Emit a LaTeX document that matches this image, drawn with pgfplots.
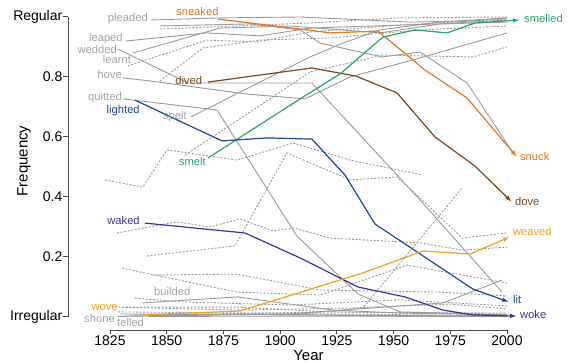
\documentclass[border=0pt]{standalone}
\usepackage{pgfplots}
\pgfplotsset{compat=1.18}
\usepackage{fontspec}
\setmainfont{Liberation Sans}
\usetikzlibrary{arrows.meta}
\definecolor{cgray}{HTML}{9A9A9A}
\definecolor{lgray}{HTML}{A4A4A4}
\definecolor{corange}{HTML}{E8761E}
\definecolor{cbrown}{HTML}{7A4A1C}
\definecolor{cgreen}{HTML}{25A86B}
\definecolor{cblue}{HTML}{1B479B}
\definecolor{cpurple}{HTML}{4B2C9E}
\definecolor{cyellow}{HTML}{EFA21E}
\tikzset{
  gs/.style={cgray, line width=0.9pt},
  gd/.style={cgray, line width=0.9pt, dash pattern=on 2pt off 1.6pt},
  cl/.style={line width=1.2pt, -{Latex[length=7pt,width=4.5pt]}},
  lab/.style={font=\fontsize{11.2}{12}\selectfont, inner sep=0pt},
}
\begin{document}
\begin{tikzpicture}[x=1pt,y=1pt]
\begin{axis}[
  at={(68pt,33pt)}, anchor=south west,
  scale only axis, width=439pt, height=313.3pt,
  xmin=1806.5, xmax=2000, ymin=-0.0443, ymax=1,
  clip=false,
  axis x line*=bottom, axis y line*=left,
  x axis line style={-, shorten <=42pt},
  y axis line style={-, shorten <=13.3pt},
  axis line style={black!70, line width=0.8pt},
  xtick={1825,1850,1875,1900,1925,1950,1975,2000},
  xticklabels={1825,1850,1875,1900,1925,1950,1975,2000},
  ytick={0,0.2,0.4,0.6,0.8,1},
  yticklabels={Irregular,0.2,0.4,0.6,0.8,Regular},
  tick align=outside, major tick length=4.5pt,
  tick style={black!70, line width=0.8pt},
  xticklabel style={font=\fontsize{14}{15}\selectfont, inner sep=1.5pt},
  yticklabel style={font=\fontsize{14}{15}\selectfont, inner sep=1pt},
  no markers,
]
% ---- gray dashed
\addplot[gd] coordinates {(1847.0,0.959)(1913.2,0.979)(1952.8,0.996)(2000,0.999)};
\addplot[gd] coordinates {(1832.9,0.836)(1867.8,0.922)(1889.8,0.916)(1913.2,0.949)(1952.8,0.972)(2000,0.992)};
\addplot[gd] coordinates {(1847.0,0.786)(1866.0,0.896)(1891.1,0.922)(1922.0,0.929)(1961.7,0.956)(2000,0.969)};
\addplot[gd] coordinates {(1858.1,0.539)(1886.7,0.682)(1913.2,0.816)(1945.3,0.872)(1964.7,0.869)(1985.0,0.866)(2000,0.899)};
\addplot[gd] coordinates {(1822.8,0.456)(1839.5,0.432)(1850.1,0.556)(1881.0,0.522)(1905.7,0.579)(1930.8,0.522)(1963.0,0.472)};
\addplot[gd] coordinates {(1841.3,0.202)(1880.1,0.236)(1903.0,0.546)(1930.8,0.456)(1951.5,0.466)(1961.7,0.396)(1980.2,0.262)(2000,0.279)};
\addplot[gd] coordinates {(1828.1,0.279)(1854.5,0.316)(1869.1,0.299)(1882.3,0.326)(1896.9,0.286)(1905.7,0.296)(1922.0,0.262)(1961.7,0.246)(1980.6,0.222)(2000,0.232)};
\addplot[gd] coordinates {(1830.3,0.162)(1881.0,0.082)(1917.6,0.072)(1955.9,0.172)(2000,0.112)};
\addplot[gd] coordinates {(1843.5,0.139)(1881.0,0.142)(1917.6,0.089)(1970.5,0.082)(2000,0.069)};
\addplot[gd] coordinates {(1908.8,0.009)(1936.5,0.029)(1980.2,0.429)};
\addplot[gd] coordinates {(1836.0,0.062)(1857.2,0.049)(1904.3,0.039)(1952.8,0.056)(2000,0.036)};
\addplot[gd] coordinates {(1827.2,0.032)(1882.3,0.022)(1930.8,0.029)(1974.9,0.042)(2000,0.026)};
\addplot[gd] coordinates {(1830.3,0.032)(1881.0,0.032)(1922.0,0.016)(2000,0.012)};
\addplot[gd] coordinates {(1828.5,0.016)(1891.1,0.012)(1961.7,0.006)(2000,0.002)};
\addplot[gd] coordinates {(1842.6,0.006)(1922.0,0.016)(2000,0.009)};
% ---- gray solid
\addplot[gs] coordinates {(1843.1,0.989)(1873.5,0.996)(1908.8,0.999)(1957.2,0.982)(1985.0,0.986)(2000,0.996)}; % pleaded
\addplot[gs] coordinates {(1832.1,0.919)(1867.8,0.946)(1891.1,0.936)(1913.2,0.962)(1952.8,0.972)(2000,0.982)}; % leaped
\addplot[gs] coordinates {(1835.1,0.879)(1873.5,0.962)(1904.3,0.969)(1944.0,0.946)(1970.5,0.976)(2000,0.989)}; % learnt
\addplot[gs] coordinates {(1847.0,0.969)(1886.7,0.976)(1908.8,0.956)(1917.6,0.912)(1944.9,0.866)(1961.7,0.882)(1982.4,0.779)(2002.7,0.546)};
\addplot[gs] coordinates {(1828.5,0.892)(1859.4,0.779)(1914.0,0.779)(1961.7,0.389)(1997.8,0.082)}; % wedded
\addplot[gs] coordinates {(1830.7,0.796)(1842.6,0.786)(1885.4,0.742)(1911.0,0.726)(1930.8,0.799)(1958.6,0.856)(2000,0.946)}; % hove
\addplot[gs] coordinates {(1830.7,0.726)(1872.2,0.689)(1907.4,0.269)(1934.3,0.076)(1952.8,0.016)(2000,0.006)}; % quitted
\addplot[gs] coordinates {(1860.7,0.666)(1913.2,0.866)(1927.7,0.912)(1944.0,0.956)(1970.5,0.982)(2000,0.996)}; % spelt
\addplot[gs] coordinates {(1839.5,0.046)(1881.4,0.066)(1923.3,0.022)(1952.8,0.012)(2000,0.006)}; % builded
\addplot[gs] coordinates {(1828.5,0.001)(1903.0,0.009)(1971.8,0.046)(1997.8,0.122)}; % shone
\addplot[gs] coordinates {(1841.8,0.001)(1920,0.002)(2000,0.001)}; % telled
\addplot[gs] coordinates {(1829.4,0.009)(1908.8,0.006)(2000,0.002)};
\addplot[gs] coordinates {(1831.6,0.002)(1886.7,0.009)(1952.8,0.002)(2000,0.000)};
% ---- coloured
\addplot[cl, corange] coordinates {(1872.6,0.992)(1908.8,0.959)(1922.0,0.946)(1943.1,0.952)(1963.9,0.822)(1982.4,0.729)(2004.4,0.532)};
\addplot[cl, cbrown] coordinates {(1868.2,0.782)(1914.0,0.829)(1933.4,0.802)(1951.5,0.746)(1968.3,0.599)(1985.9,0.502)(2002.2,0.382)};
\addplot[cl, cgreen] coordinates {(1868.2,0.529)(1908.8,0.726)(1926.4,0.809)(1945.3,0.932)(1959.4,0.956)(1973.6,0.946)(1985.9,0.979)(2005.7,0.989)};
\addplot[cl, cblue] coordinates {(1836.0,0.722)(1874.4,0.586)(1894.2,0.596)(1914.0,0.592)(1928.6,0.472)(1941.8,0.309)(1985.0,0.092)(2000.9,0.049)};
\addplot[cl, cpurple] coordinates {(1840.4,0.312)(1884.5,0.279)(1908.8,0.196)(1934.3,0.099)(1955.0,0.066)(1971.8,0.022)(1985.0,0.006)(2004.4,0.002)};
\addplot[cl, cyellow] coordinates {(1839.1,0.006)(1882.3,0.019)(1936.5,0.146)(1963.0,0.219)(1983.7,0.209)(2001.3,0.266)};
% ---- labels
\node[lab, lgray, anchor=mid east] at (axis cs:1841.75,0.992) {pleaded};
\node[lab, lgray, anchor=mid east] at (axis cs:1830.7,0.926) {leaped};
\node[lab, lgray, anchor=mid east] at (axis cs:1828.1,0.886) {wedded};
\node[lab, lgray, anchor=mid east] at (axis cs:1834.3,0.853) {learnt};
\node[lab, lgray, anchor=mid east] at (axis cs:1830.3,0.802) {hove};
\node[lab, lgray, anchor=mid east] at (axis cs:1830.3,0.728) {quitted};
\node[lab, cblue, anchor=mid east] at (axis cs:1838.2,0.687) {lighted};
\node[lab, lgray, anchor=mid east] at (axis cs:1858.9,0.666) {spelt};
\node[lab, cgreen, anchor=mid east] at (axis cs:1867.3,0.512) {smelt};
\node[lab, cpurple, anchor=mid east] at (axis cs:1838.2,0.316) {waked};
\node[lab, cyellow, anchor=mid east] at (axis cs:1828.5,0.029) {wove};
\node[lab, lgray, anchor=mid east] at (axis cs:1827.2,-0.011) {shone};
\node[lab, cbrown, anchor=mid west] at (axis cs:1853.7,0.782) {dived};
\node[lab, corange, anchor=mid west] at (axis cs:1854.1,1.014) {sneaked};
\node[lab, lgray, anchor=mid west] at (axis cs:1844.4,0.079) {builded};
\node[lab, lgray, anchor=mid west] at (axis cs:1828.1,-0.025) {telled};
\node[lab, cgreen, anchor=mid west] at (axis cs:2007.5,0.989) {smelled};
\node[lab, corange, anchor=mid west] at (axis cs:2005.7,0.529) {snuck};
\node[lab, cbrown, anchor=mid west] at (axis cs:2003.5,0.379) {dove};
\node[lab, cyellow, anchor=mid west] at (axis cs:2002.6,0.279) {weaved};
\node[lab, cblue, anchor=mid west] at (axis cs:2002.6,0.052) {lit};
\node[lab, cpurple, anchor=mid west] at (axis cs:2005.7,0.002) {woke};
% axis titles
\node[font=\fontsize{15}{16}\selectfont, inner sep=0pt, anchor=north] at (axis cs:1912.5,-0.0443) [yshift=-20pt] {Year};
\node[font=\fontsize{15}{16}\selectfont, inner sep=0pt, anchor=south, rotate=90] at (axis cs:1790.2,0.519) {Frequency};
\end{axis}
\pgfresetboundingbox
\path[use as bounding box] (0,0) rectangle (570,363);
\end{tikzpicture}
\end{document}
